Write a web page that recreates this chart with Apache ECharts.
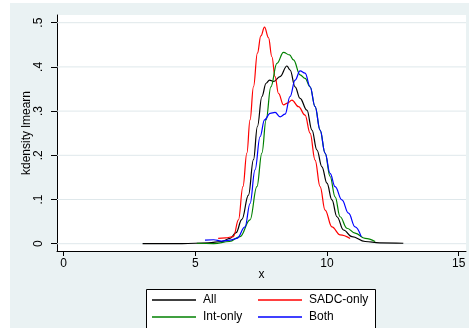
<!DOCTYPE html>
<html><head><meta charset="utf-8">
<script src="https://cdn.jsdelivr.net/npm/echarts@6/dist/echarts.min.js"></script>
<style>
html,body{margin:0;padding:0;background:#fff;}
#bg{position:absolute;left:10px;top:3px;width:459px;height:325px;background:#EAF2F3;}
#main{position:absolute;left:0;top:0;width:471px;height:328px;}
</style></head>
<body><div id="bg"></div><div id="main"></div>
<script>
const xTicks = [0, 5, 10, 15];
const yTicks = [0, 0.1, 0.2, 0.3, 0.4, 0.5];
const seriesNames = ['All', 'SADC-only', 'Int-only', 'Both'];
const seriesColors = ['#000000', '#FF0000', '#008000', '#0000FF'];

const allData = [[3.0,0.0],[4.5,0.0],[5.5,0.002],[6.0,0.005],[6.32,0.012],[6.55,0.025],[6.77,0.055],[7.02,0.11],[7.21,0.19],[7.36,0.265],[7.53,0.333],[7.69,0.363],[7.82,0.370],[7.97,0.367],[8.22,0.378],[8.48,0.402],[8.60,0.393],[8.79,0.355],[8.98,0.329],[9.24,0.302],[9.43,0.257],[9.62,0.212],[9.81,0.174],[10.0,0.137],[10.19,0.099],[10.38,0.061],[10.63,0.031],[10.95,0.016],[11.45,0.005],[12.0,0.002],[12.9,0.001]];
const sadcData = [[5.87,0.012],[6.15,0.013],[6.45,0.016],[6.64,0.054],[6.81,0.129],[6.96,0.205],[7.08,0.280],[7.21,0.355],[7.36,0.431],[7.49,0.470],[7.63,0.490],[7.78,0.466],[7.91,0.423],[8.03,0.378],[8.16,0.340],[8.35,0.314],[8.50,0.318],[8.67,0.325],[8.92,0.310],[9.17,0.291],[9.36,0.250],[9.55,0.189],[9.74,0.129],[9.93,0.076],[10.19,0.038],[10.50,0.020],[10.88,0.012]];
const intData = [[5.06,0.001],[5.7,0.0],[6.3,0.005],[6.70,0.016],[7.08,0.054],[7.34,0.129],[7.53,0.205],[7.69,0.280],[7.87,0.355],[8.10,0.408],[8.35,0.433],[8.58,0.427],[8.73,0.416],[8.98,0.382],[9.17,0.374],[9.36,0.355],[9.55,0.310],[9.74,0.257],[9.93,0.205],[10.12,0.152],[10.31,0.106],[10.50,0.061],[10.76,0.035],[11.07,0.024],[11.45,0.012],[11.83,0.005]];
const bothData = [[5.37,0.008],[5.7,0.009],[6.0,0.006],[6.32,0.008],[6.58,0.012],[6.89,0.038],[7.08,0.091],[7.27,0.167],[7.46,0.242],[7.63,0.280],[7.84,0.295],[8.03,0.297],[8.22,0.287],[8.41,0.293],[8.60,0.333],[8.79,0.370],[8.98,0.391],[9.17,0.386],[9.36,0.355],[9.55,0.310],[9.74,0.257],[9.93,0.205],[10.12,0.159],[10.31,0.129],[10.57,0.099],[10.82,0.069],[11.07,0.038],[11.30,0.016]];
const seriesData = [allData, sadcData, intData, bothData];

const X_MIN = -0.25, X_MAX = 15.28, Y_MIN = -0.0165, Y_MAX = 0.5174;
const FONT = '"Liberation Sans", Arial, sans-serif';
const chart = echarts.init(document.getElementById('main'), null, {renderer: 'canvas'});

const legendPos = [[152, 294], [258, 294], [152, 311], [258, 311]];

// horizontal grid lines, drawn as plain line series across the x range
const gridLineSeries = yTicks.map((v, k) => ({
  name: '_grid' + k, type: 'line', silent: true, z: 1, symbol: 'none', animation: false,
  data: [[X_MIN, v], [X_MAX, v]],
  lineStyle: {color: '#DFE8EB', width: 1},
  emphasis: {disabled: true}, tooltip: {show: false}
}));

const option = {
  backgroundColor: 'transparent',
  animation: false,
  textStyle: {fontFamily: FONT},
  grid: {left: 57, top: 15, width: 409, height: 236, show: true, backgroundColor: '#ffffff', borderWidth: 0},
  xAxis: {
    type: 'value', min: X_MIN, max: X_MAX,
    name: 'x', nameLocation: 'middle', nameGap: 18, nameMoveOverlap: false,
    nameTextStyle: {color: '#000', fontSize: 12, fontFamily: FONT},
    axisLine: {show: true, onZero: false, lineStyle: {color: '#000', width: 1}},
    axisTick: {show: true, inside: false, length: 5, customValues: xTicks, lineStyle: {color: '#000', width: 1}},
    axisLabel: {show: true, customValues: xTicks, margin: 7, color: '#000', fontSize: 12, fontFamily: FONT},
    splitLine: {show: false}
  },
  yAxis: {
    type: 'value', min: Y_MIN, max: Y_MAX,
    name: 'kdensity lmearn', nameLocation: 'middle', nameGap: 24, nameMoveOverlap: false,
    nameTextStyle: {color: '#000', fontSize: 12, fontFamily: FONT},
    axisLine: {show: true, onZero: false, lineStyle: {color: '#000', width: 1}},
    axisTick: {show: true, inside: false, length: 6, customValues: yTicks, lineStyle: {color: '#000', width: 1}},
    axisLabel: {show: true, customValues: yTicks, rotate: 90, margin: 12, color: '#000', fontSize: 12, fontFamily: FONT,
      formatter: v => (Math.abs(v) < 1e-9 ? '0' : String(+v.toFixed(1)).replace(/^0/, ''))},
    splitLine: {show: false}
  },
  legend: seriesNames.map((n, i) => ({
    data: [n], left: legendPos[i][0], top: legendPos[i][1], padding: 0, z: 20,
    icon: 'rect', itemWidth: 44, itemHeight: 1.5, itemGap: 0,
    textStyle: {color: '#000', fontSize: 12, fontFamily: FONT, padding: [0, 0, 0, 2]},
    selectedMode: false
  })),
  graphic: [{
    type: 'rect', z: 10, silent: true,
    shape: {x: 146.5, y: 289.5, width: 229, height: 50},
    style: {fill: '#ffffff', stroke: '#000000', lineWidth: 1}
  }],
  series: gridLineSeries.concat(seriesNames.map((n, i) => ({
    name: n, type: 'line', data: seriesData[i], symbol: 'none', showSymbol: false,
    smooth: 0.4, smoothMonotone: 'x', clip: true, z: 3,
    lineStyle: {color: seriesColors[i], width: 1.2},
    itemStyle: {color: seriesColors[i]}
  })))
};
chart.setOption(option);
</script>
</body></html>
